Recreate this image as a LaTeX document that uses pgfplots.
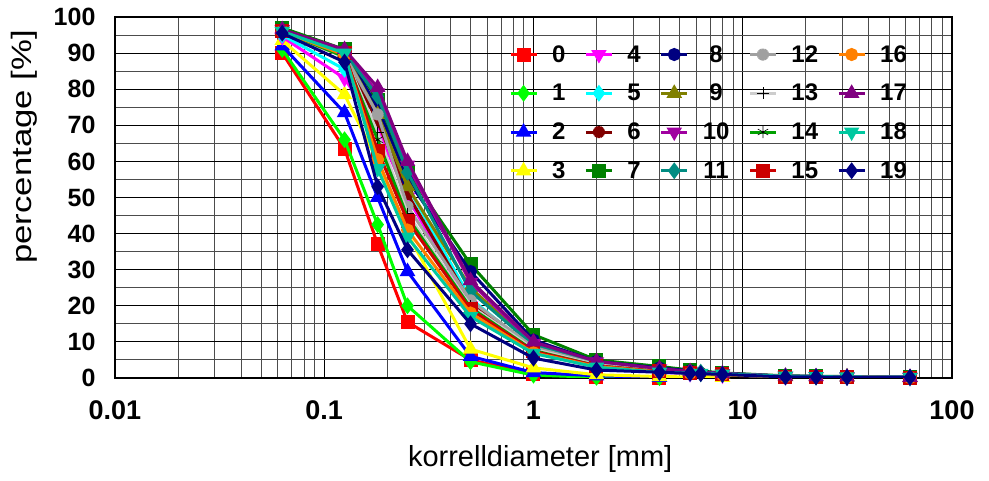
\documentclass[border=0pt]{standalone}
\usepackage{fontspec}
\setmainfont{Liberation Sans}
\newfontfamily\labfont[FakeStretch=1.24]{Liberation Sans}
\usepackage{pgfplots}
\pgfplotsset{compat=1.18}
\usetikzlibrary{plotmarks}
\definecolor{c0}{RGB}{255,0,0}
\definecolor{c1}{RGB}{0,255,0}
\definecolor{c2}{RGB}{0,0,255}
\definecolor{c3}{RGB}{255,255,0}
\definecolor{c4}{RGB}{255,0,255}
\definecolor{c5}{RGB}{0,255,255}
\definecolor{c6}{RGB}{128,0,0}
\definecolor{c7}{RGB}{0,128,0}
\definecolor{c8}{RGB}{0,0,128}
\definecolor{c9}{RGB}{128,128,0}
\definecolor{c10}{RGB}{160,0,160}
\definecolor{c11}{RGB}{0,140,130}
\definecolor{c12}{RGB}{160,160,160}
\definecolor{c13}{RGB}{205,205,205}
\definecolor{c14}{RGB}{0,160,0}
\definecolor{c15}{RGB}{204,0,0}
\definecolor{c16}{RGB}{255,128,0}
\definecolor{c17}{RGB}{128,0,128}
\definecolor{c18}{RGB}{0,200,160}
\definecolor{c19}{RGB}{0,0,128}

\begin{document}
\begin{tikzpicture}
\begin{semilogxaxis}[
  at={(0,0)}, anchor=south west,
  scale only axis, width=837pt, height=361pt,
  xmin=0.01, xmax=100, ymin=0, ymax=100,
  xtick={0.01,0.1,1,10,100}, xticklabels={0.01,0.1,1,10,100},
  minor xtick={0.02,0.03,0.04,0.05,0.06,0.07,0.08,0.09,
    0.2,0.3,0.4,0.5,0.6,0.7,0.8,0.9,2,3,4,5,6,7,8,9,
    20,30,40,50,60,70,80,90},
  ytick={0,10,...,100}, minor ytick={5,15,...,95},
  grid=both,
  major grid style={draw=black, line width=0.9pt},
  minor grid style={draw=black!70, line width=0.9pt},
  tick style={draw=none},
  axis line style={black, line width=1.8pt},
  /pgf/number format/assume math mode=true,
  xticklabel style={yshift=-19pt, font=\fontsize{27}{30}\selectfont\bfseries},
  yticklabel style={xshift=-16pt, font=\fontsize{25}{28}\selectfont\bfseries},
  xlabel={korrelldiameter [mm]},
  ylabel={percentage [\%]},
  every axis x label/.style={at={(axis description cs:0.508,0)}, yshift=-81pt, anchor=center,
    font=\fontsize{29}{31}\selectfont},
  every axis y label/.style={at={(axis description cs:0,0.64)}, xshift=-91pt, rotate=90, anchor=center,
    font=\fontsize{28}{30}\selectfont\labfont},
  clip mode=individual,
  every axis plot/.append style={line width=3pt},
  mark options={solid, draw=black, line width=0.5pt},
  legend image code/.code={\draw[mark repeat=2, mark phase=2] plot coordinates {(0pt,0pt) (13pt,0pt) (26pt,0pt)};},
  legend columns=4, transpose legend,
  legend style={at={(axis description cs:0.467,0.933)}, anchor=north west,
    draw=none, fill=none, font=\fontsize{24}{26}\selectfont\bfseries,
    /tikz/every odd column/.append style={column sep=12pt},
    /tikz/every even column/.append style={column sep=17pt},
    /tikz/column 6/.append style={column sep=28pt},
    /tikz/column 8/.append style={column sep=22pt},
    /tikz/row sep=16.5pt},
]
\addplot[c0, mark=square*, mark size=5.5pt, mark options={fill=c0}] coordinates {
  (0.063,90) (0.125,63.5) (0.18,37) (0.25,15.5) (0.5,5) (1,1.2) (2,0.3) (4,0.1)};
\addlegendentry{0}
\addplot[c1, mark=diamond*, mark size=6pt, mark options={fill=c1}] coordinates {
  (0.063,91) (0.125,66) (0.18,42.5) (0.25,20) (0.5,4.5) (1,0.8) (2,0.2) (4,0.1)};
\addlegendentry{1}
\addplot[c2, mark=triangle*, mark size=6pt, mark options={fill=c2}] coordinates {
  (0.063,92) (0.125,73.5) (0.18,50) (0.25,29.5) (0.5,6) (1,1.5) (2,0.6) (4,0.2)};
\addlegendentry{2}
\addplot[c3, mark=triangle*, mark size=6pt, mark options={fill=c3}] coordinates {
  (0.063,93.5) (0.125,78.5) (0.18,60) (0.25,40) (0.5,8) (1,2.8) (2,0.9) (4,0.4) (8,0.2)};
\addlegendentry{3}
\addplot[c4, mark=triangle*, mark size=6pt, mark options={fill=c4, rotate=180}] coordinates {
  (0.063,94.5) (0.125,83) (0.18,69) (0.25,50) (0.5,20) (1,7) (2,3.2) (4,1.6) (5.6,1.2) (8,0.8) (16,0.4) (31.5,0.2) (63,0.1)};
\addlegendentry{4}
\addplot[c5, mark=diamond*, mark size=6pt, mark options={fill=c5}] coordinates {
  (0.063,95) (0.125,85.5) (0.18,72) (0.25,53) (0.5,22) (1,7.8) (2,3.6) (4,1.8) (5.6,1.3) (8,0.9) (16,0.4) (31.5,0.2) (63,0.1)};
\addlegendentry{5}
\addplot[c6, mark=10-pointed star, mark size=6pt, mark options={fill=c6}] coordinates {
  (0.063,96) (0.125,89) (0.18,71) (0.25,51) (0.5,21) (1,8) (2,3.8) (4,2) (6.3,1.4) (8,1) (16,0.4) (22.4,0.3) (63,0.1)};
\addlegendentry{6}
\addplot[c7, mark=square*, mark size=5.5pt, mark options={fill=c7}] coordinates {
  (0.063,97) (0.125,91) (0.18,77) (0.25,57) (0.5,31.5) (1,12) (2,5) (4,3.2) (5.6,2.2) (8,1.4) (16,0.6) (22.4,0.5) (31.5,0.4) (63,0.2)};
\addlegendentry{7}
\addplot[c8, mark=*, mark size=5pt, mark options={fill=c8}] coordinates {
  (0.063,96.5) (0.125,90.5) (0.18,75) (0.25,55) (0.5,29.5) (1,10.5) (2,4.6) (4,2.8) (5.6,2) (8,1.3) (16,0.5) (22.4,0.4) (31.5,0.3) (63,0.2)};
\addlegendentry{8}
\addplot[c9, mark=triangle*, mark size=6pt, mark options={fill=c9}] coordinates {
  (0.063,96) (0.125,90) (0.18,73) (0.25,53) (0.5,25) (1,9) (2,4.2) (4,2.2) (5.6,1.6) (8,1.1) (16,0.4) (31.5,0.3) (63,0.1)};
\addlegendentry{9}
\addplot[c10, mark=triangle*, mark size=6pt, mark options={fill=c10, rotate=180}] coordinates {
  (0.063,96.5) (0.125,90.5) (0.18,79) (0.25,59) (0.5,26.5) (1,9.5) (2,4.5) (4,2.5) (5.6,1.8) (8,1.2) (16,0.5) (22.4,0.4) (31.5,0.3) (63,0.2)};
\addlegendentry{10}
\addplot[c11, mark=diamond*, mark size=6pt, mark options={fill=c11}] coordinates {
  (0.063,96.5) (0.125,90) (0.18,78) (0.25,57) (0.5,24) (1,9) (2,4.2) (4,2.3) (6.3,1.6) (8,1.2) (16,0.5) (22.4,0.4) (31.5,0.3) (63,0.2)};
\addlegendentry{11}
\addplot[c12, mark=10-pointed star, mark size=6pt, mark options={fill=c12}] coordinates {
  (0.063,96) (0.125,89.5) (0.18,73) (0.25,47.5) (0.5,21.5) (1,8.5) (2,3.8) (4,2) (5.6,1.4) (8,1) (16,0.4) (31.5,0.3) (63,0.1)};
\addlegendentry{12}
\addplot[c13, mark=+, mark size=6pt, mark options={draw=black, line width=0.6pt}] coordinates {
  (0.063,95.5) (0.125,89) (0.18,68) (0.25,45.5) (0.5,20) (1,8) (2,3.6) (4,1.9) (5.6,1.3) (8,0.9) (16,0.4) (31.5,0.2) (63,0.1)};
\addlegendentry{13}
\addplot[c14, mark=asterisk, mark size=6pt, mark options={draw=black, line width=0.6pt}] coordinates {
  (0.063,96) (0.125,89) (0.18,66) (0.25,44.5) (0.5,19.5) (1,7.6) (2,3.4) (4,1.8) (6.3,1.3) (8,0.9) (16,0.4) (31.5,0.2) (63,0.1)};
\addlegendentry{14}
\addplot[c15, mark=square*, mark size=5.5pt, mark options={fill=c15}] coordinates {
  (0.063,96) (0.125,90) (0.18,63) (0.25,43.5) (0.5,19) (1,7.4) (2,3.4) (4,1.8) (5.6,1.5) (8,1) (16,0.4) (22.4,0.3) (31.5,0.2) (63,0.1)};
\addlegendentry{15}
\addplot[c16, mark=*, mark size=5pt, mark options={fill=c16}] coordinates {
  (0.063,96) (0.125,89.5) (0.18,60.5) (0.25,41) (0.5,18) (1,7) (2,3.2) (4,1.7) (5.6,1.3) (8,0.9) (16,0.4) (31.5,0.2) (63,0.1)};
\addlegendentry{16}
\addplot[c17, mark=triangle*, mark size=6pt, mark options={fill=c17}] coordinates {
  (0.063,96.5) (0.125,91) (0.18,80.5) (0.25,60) (0.5,27) (1,10) (2,4.6) (4,2.6) (5.6,1.8) (8,1.2) (16,0.5) (22.4,0.4) (31.5,0.3) (63,0.2)};
\addlegendentry{17}
\addplot[c18, mark=triangle*, mark size=6pt, mark options={fill=c18, rotate=180}] coordinates {
  (0.063,96) (0.125,90) (0.18,58) (0.25,39) (0.5,17) (1,6.8) (2,3) (4,1.6) (6.3,1.3) (8,1.1) (16,0.5) (22.4,0.4) (31.5,0.3) (63,0.2)};
\addlegendentry{18}
\addplot[c19, mark=diamond*, mark size=6pt, mark options={fill=c19}] coordinates {
  (0.063,95.5) (0.125,87.5) (0.18,53) (0.25,35.5) (0.5,15) (1,5.5) (2,2.2) (4,1.6) (5.6,1.3) (6.3,1.2) (8,1) (16,0.3) (22.4,0.3) (31.5,0.2) (63,0.2)};
\addlegendentry{19}
\end{semilogxaxis}
\path[use as bounding box] (-115pt,-103pt) rectangle (874pt,378pt);
\end{tikzpicture}
\end{document}
